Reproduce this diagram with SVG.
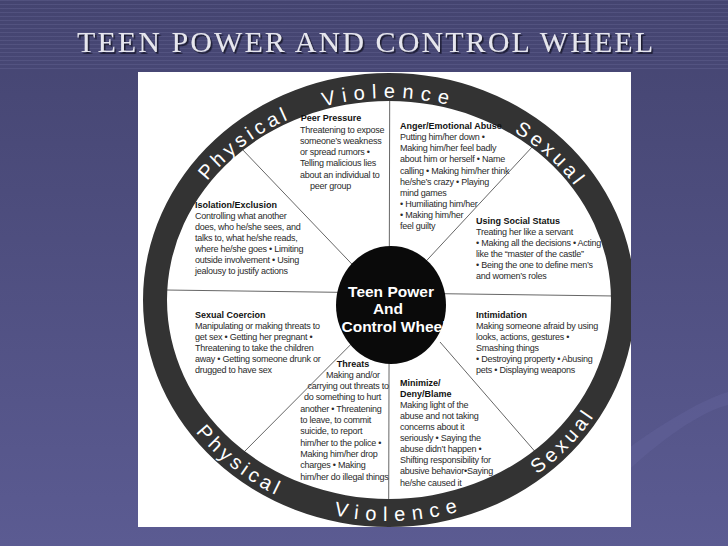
<svg xmlns="http://www.w3.org/2000/svg" width="728" height="546" viewBox="0 0 728 546">
<defs>
<linearGradient id="bg" x1="0" y1="0" x2="0" y2="1">
<stop offset="0" stop-color="#444470"/>
<stop offset="1" stop-color="#5b5b92"/>
</linearGradient>
<pattern id="stripes" width="8" height="4" patternUnits="userSpaceOnUse">
<rect width="8" height="1" fill="#6a6a98" opacity="0.35"/>
</pattern>
<filter id="shadow" x="-5%" y="-30%" width="110%" height="160%">
<feDropShadow dx="1.6" dy="1.8" stdDeviation="0.4" flood-color="#1a1a30" flood-opacity="1"/>
</filter>
<clipPath id="panelClip"><rect x="138" y="72" width="493" height="455"/></clipPath>
<path id="pTopV" d="M259.9,134.5 A225,202 0 0 1 518.1,134.5"/>
<path id="pTopP" d="M171.1,249.8 A225,202 0 0 1 367,99"/>
<path id="pTopS" d="M435.8,102.4 A225,202 0 0 1 610.6,264.9"/>
<path id="pBotV" d="M259.9,486.6 A241,221 0 0 0 536,475.1"/>
<path id="pBotP" d="M155.3,353.8 A241,221 0 0 0 364.2,519.8"/>
<path id="pBotS" d="M448.1,514.2 A241,221 0 0 0 628.8,322.3"/>
<style>
.ring{font-family:"Liberation Sans",Arial,sans-serif;font-size:20px;fill:#ffffff;letter-spacing:7px}
.ring2{font-family:"Liberation Sans",Arial,sans-serif;font-size:20px;fill:#ffffff;letter-spacing:4px}
.h{font-family:"Liberation Sans",Arial,sans-serif;font-size:9px;font-weight:bold;fill:#111}
.b{font-family:"Liberation Sans",Arial,sans-serif;font-size:9px;fill:#2a2a2a;letter-spacing:-0.25px}
.div{stroke:#555;stroke-width:0.9;fill:none}
.title{font-family:"Liberation Serif","Times New Roman",serif;font-size:30px}
.ctr{font-family:"Liberation Sans",Arial,sans-serif;font-size:15.5px;font-weight:bold;fill:#fff;text-anchor:middle}
</style>
</defs>
<rect width="728" height="546" fill="url(#bg)"/>
<rect width="728" height="72" fill="url(#stripes)"/>
<path d="M600,470 C650,430 700,400 728,392 L728,405 C700,412 660,440 620,478 Z" fill="#6868a0" opacity="0.35"/>
<g id="title">
<text class="title" x="77" y="51.5" fill="#e6e6ee" filter="url(#shadow)" textLength="576" lengthAdjust="spacing">TEEN POWER AND CONTROL WHEEL</text>
</g>
<rect x="138" y="72" width="493" height="455" fill="#ffffff"/>
<g clip-path="url(#panelClip)">
<g id="connectors">
<line class="div" x1="165" y1="290" x2="615" y2="296"/>
<line class="div" x1="389.7" y1="100" x2="388.7" y2="502"/>
<line class="div" x1="241" y1="148" x2="390" y2="304"/>
<line class="div" x1="533" y1="146" x2="390" y2="300"/>
<line class="div" x1="241" y1="455" x2="390" y2="305"/>
<line class="div" x1="538" y1="455" x2="440" y2="342"/>
</g>
<g id="ring">
<path fill="#333" fill-rule="evenodd" d="M143,300 A246,227 0 1 0 635,300 A246,227 0 1 0 143,300 Z M167,300 A222,199 0 1 0 611,300 A222,199 0 1 0 167,300 Z"/>
<text class="ring"><textPath href="#pTopV" startOffset="50%" text-anchor="middle">Violence</textPath></text>
<text class="ring2"><textPath href="#pTopP" startOffset="50%" text-anchor="middle">Physical</textPath></text>
<text class="ring2"><textPath href="#pTopS" startOffset="50%" text-anchor="middle">Sexual</textPath></text>
<text class="ring"><textPath href="#pBotV" startOffset="50%" text-anchor="middle">Violence</textPath></text>
<text class="ring2"><textPath href="#pBotP" startOffset="50%" text-anchor="middle">Physical</textPath></text>
<text class="ring2"><textPath href="#pBotS" startOffset="50%" text-anchor="middle">Sexual</textPath></text>
</g>
</g>
<g id="hub">
<ellipse cx="391" cy="305" rx="55" ry="59" fill="#0a0a0a"/>
<text class="ctr" x="391" y="297">Teen Power</text>
<text class="ctr" x="388" y="314">And</text>
<text class="ctr" x="394" y="331.5">Control Wheel</text>
</g>
<g id="peer">
<text class="h" x="300.7" y="121">Peer Pressure</text>
<text class="b"><tspan x="300" y="132.5">Threatening to expose</tspan><tspan x="300" y="143.8">someone’s weakness</tspan><tspan x="300" y="155.1">or spread rumors •</tspan><tspan x="300" y="166.4">Telling malicious lies</tspan><tspan x="300" y="177.7">about an individual to</tspan><tspan x="310" y="189">peer group</tspan></text>
</g>
<g id="anger">
<text class="h" x="400" y="129">Anger/Emotional Abuse</text>
<text class="b"><tspan x="400" y="140.2">Putting him/her down •</tspan><tspan x="400" y="151.3">Making him/her feel badly</tspan><tspan x="400" y="162.4">about him or herself • Name</tspan><tspan x="400" y="173.5">calling • Making him/her think</tspan><tspan x="400" y="184.6">he/she’s crazy  • Playing</tspan><tspan x="400" y="195.7">mind games</tspan><tspan x="400" y="206.8">• Humiliating him/her</tspan><tspan x="400" y="217.9">• Making him/her</tspan><tspan x="400" y="229">feel guilty</tspan></text>
</g>
<g id="social">
<text class="h" x="476" y="223.5">Using Social Status</text>
<text class="b"><tspan x="476" y="234.6">Treating her like a servant</tspan><tspan x="476" y="245.7">• Making all the decisions • Acting</tspan><tspan x="476" y="256.8">like the “master of the castle”</tspan><tspan x="476" y="267.9">• Being the one to define men’s</tspan><tspan x="476" y="279">and women’s roles</tspan></text>
</g>
<g id="isolation">
<text class="h" x="195" y="207.5">Isolation/Exclusion</text>
<text class="b"><tspan x="195" y="218.6">Controlling what another</tspan><tspan x="195" y="229.7">does, who he/she sees, and</tspan><tspan x="195" y="240.8">talks to, what he/she reads,</tspan><tspan x="195" y="251.9">where he/she goes • Limiting</tspan><tspan x="195" y="263">outside involvement • Using</tspan><tspan x="195" y="274.1">jealousy to justify actions</tspan></text>
</g>
<g id="coercion">
<text class="h" x="195" y="317.5">Sexual Coercion</text>
<text class="b"><tspan x="195" y="328.6">Manipulating or making threats to</tspan><tspan x="195" y="339.7">get sex • Getting her pregnant •</tspan><tspan x="195" y="350.8">Threatening to take the children</tspan><tspan x="195" y="361.9">away • Getting someone drunk or</tspan><tspan x="195" y="373">drugged to have sex</tspan></text>
</g>
<g id="intimidation">
<text class="h" x="476" y="317.5">Intimidation</text>
<text class="b"><tspan x="476" y="328.6">Making someone afraid by using</tspan><tspan x="476" y="339.7">looks, actions, gestures •</tspan><tspan x="476" y="350.8">Smashing things</tspan><tspan x="476" y="361.9">• Destroying property • Abusing</tspan><tspan x="476" y="373">pets • Displaying weapons</tspan></text>
</g>
<g id="threats">
<text class="h" x="336.7" y="366.5">Threats</text>
<text class="b"><tspan x="326" y="377.8">Making and/or</tspan><tspan x="307.5" y="389.1">carrying out threats to</tspan><tspan x="304" y="400.4">do something to hurt</tspan><tspan x="300.3" y="411.7">another • Threatening</tspan><tspan x="300.3" y="423">to leave, to commit</tspan><tspan x="300.3" y="434.3">suicide, to report</tspan><tspan x="300.3" y="445.6">him/her to the police •</tspan><tspan x="300.3" y="456.9">Making him/her drop</tspan><tspan x="300.3" y="468.2">charges • Making</tspan><tspan x="300.3" y="479.5">him/her do illegal things</tspan></text>
</g>
<g id="minimize">
<text class="h"><tspan x="400" y="385.6">Minimize/</tspan><tspan x="400" y="396.7">Deny/Blame</tspan></text>
<text class="b"><tspan x="400" y="407.8">Making light of the</tspan><tspan x="400" y="418.9">abuse and not taking</tspan><tspan x="400" y="430">concerns about it</tspan><tspan x="400" y="441.1">seriously • Saying the</tspan><tspan x="400" y="452.2">abuse didn’t happen •</tspan><tspan x="400" y="463.3">Shifting responsibility for</tspan><tspan x="400" y="474.4">abusive behavior•Saying</tspan><tspan x="400" y="485.5">he/she caused it</tspan></text>
</g>
</svg>
